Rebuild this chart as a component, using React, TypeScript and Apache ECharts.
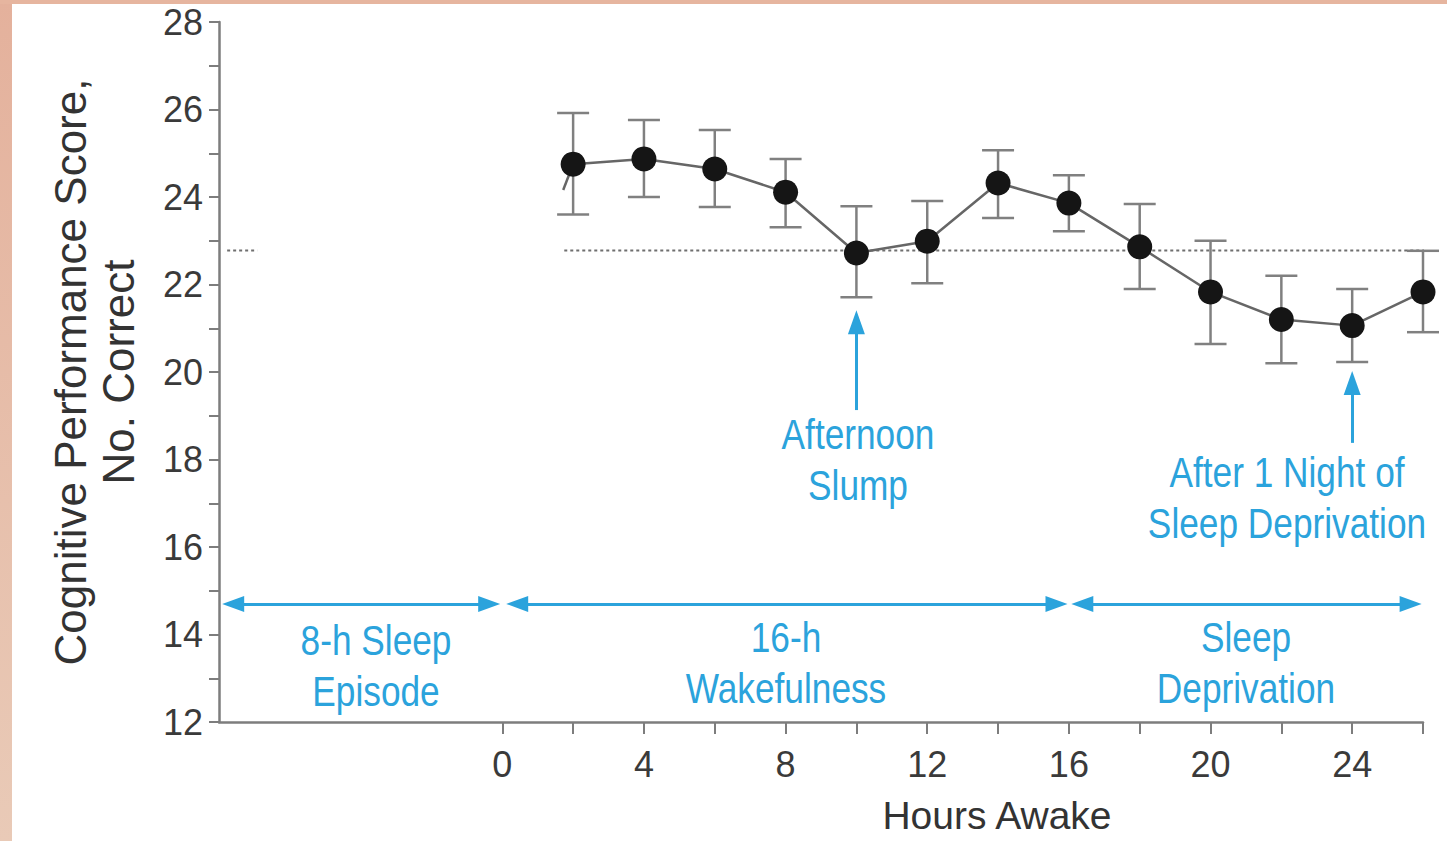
import React, { useEffect, useRef } from "react";
import * as echarts from "echarts";

// ---- data ----
const hours = [2, 4, 6, 8, 10, 12, 14, 16, 18, 20, 22, 24, 26];
const scores = [24.75, 24.87, 24.64, 24.11, 22.72, 22.99, 24.32, 23.86, 22.86, 21.83, 21.2, 21.06, 21.83];
const upperErr = [25.92, 25.76, 25.53, 24.87, 23.79, 23.91, 25.07, 24.5, 23.84, 23.0, 22.2, 21.9, 22.77];
const lowerErr = [23.6, 24.0, 23.77, 23.31, 21.71, 22.03, 23.52, 23.22, 21.9, 20.64, 20.2, 20.23, 20.91];
const leadIn = [[1.72, 24.16], [2, 24.75]];
const baseline = 22.78;
const baselineLeft = [-7.77, -6.92];
const baselineRight = [1.75, 26.5];
const xTicks = [0, 2, 4, 6, 8, 10, 12, 14, 16, 18, 20, 22, 24, 26];
const xLabels = [0, 4, 8, 12, 16, 20, 24];
const yTicks = [12, 13, 14, 15, 16, 17, 18, 19, 20, 21, 22, 23, 24, 25, 26, 27, 28];
const yLabels = [12, 14, 16, 18, 20, 22, 24, 26, 28];
// period arrows: [from, to] at level
const periodLevel = 14.7;
const periods = [
  [-7.6, -0.37],
  [0.42, 15.65],
  [16.38, 25.65],
];
// callout arrows: [x, bottom, tip]
const callouts = [
  [10, 19.13, 21.14],
  [24, 18.38, 19.75],
];

const BLUE = "#2ba3dc";
const AXIS = "#7d7d7d";
const REG = "'Liberation Sans', Arial, sans-serif";

export default function App() {
  const ref = useRef<HTMLDivElement>(null);
  useEffect(() => {
    document.body.style.margin = "0";
    const chart = echarts.init(ref.current!, null, { renderer: "svg" });
    const blueText = (x: number, y: number, text: string) => ({
      type: "text",
      x,
      y,
      scaleX: 0.82,
      style: {
        text,
        fill: BLUE,
        fontSize: 43,
        fontFamily: REG,
        align: "center",
        verticalAlign: "middle",
        lineHeight: 51,
      },
      z: 10,
    });
    const option: any = {
      animation: false,
      backgroundColor: "#ffffff",
      grid: { left: 219, right: 24, top: 22, bottom: 119, containLabel: false, outerBoundsMode: "none" },
      xAxis: {
        type: "value",
        min: -8,
        max: 26,
        interval: 2,
        axisLine: { show: true, onZero: false, lineStyle: { color: AXIS, width: 2.5 } },
        axisTick: { show: true, customValues: xTicks, length: 12, lineStyle: { color: AXIS, width: 2 } },
        axisLabel: { customValues: xLabels, color: "#3a3a3a", fontSize: 36, fontFamily: REG, margin: 24 },
        splitLine: { show: false },
        name: "Hours Awake",
        nameLocation: "middle",
        nameGap: 74,
        nameTextStyle: { color: "#333", fontSize: 39, fontFamily: REG, padding: [0, 0, 0, 352] },
      },
      yAxis: {
        type: "value",
        min: 12,
        max: 28,
        interval: 1,
        axisLine: { show: true, onZero: false, lineStyle: { color: AXIS, width: 2.5 } },
        axisTick: { show: true, customValues: yTicks, length: 10, lineStyle: { color: AXIS, width: 2 } },
        axisLabel: { customValues: yLabels, color: "#3a3a3a", fontSize: 36, fontFamily: REG, margin: 16 },
        splitLine: { show: false },
        name: "Cognitive Performance Score,\nNo. Correct",
        nameLocation: "middle",
        nameGap: 77,
        nameTextStyle: { color: "#333", fontSize: 44, fontFamily: REG, lineHeight: 48, align: "center" },
      },
      graphic: [
        {
          type: "rect",
          x: 0,
          y: 0,
          shape: { width: 12, height: 841 },
          style: {
            fill: new echarts.graphic.LinearGradient(0, 0, 0, 1, [
              { offset: 0, color: "#e4b19c" },
              { offset: 1, color: "#e9cab7" },
            ]),
          },
          z: 0,
        },
        { type: "rect", x: 0, y: 0, shape: { width: 1447, height: 4 }, style: { fill: "#e6b59f" }, z: 0 },
        blueText(376, 665, "8-h Sleep\nEpisode"),
        blueText(786, 662, "16-h\nWakefulness"),
        blueText(1246, 662, "Sleep\nDeprivation"),
        blueText(858, 459, "Afternoon\nSlump"),
        blueText(1287, 497, "After 1 Night of\nSleep Deprivation"),
      ],
      series: [
        {
          name: "baseline-left",
          type: "line",
          data: baselineLeft.map((x) => [x, baseline]),
          symbol: "none",
          clip: false,
          lineStyle: { color: "#6f6f6f", width: 2, type: [3, 3] },
          z: 1,
          silent: true,
        },
        {
          name: "baseline-right",
          type: "line",
          data: baselineRight.map((x) => [x, baseline]),
          symbol: "none",
          clip: false,
          lineStyle: { color: "#6f6f6f", width: 2, type: [3, 3] },
          z: 1,
          silent: true,
          markLine: {
            silent: true,
            symbol: ["triangle", "triangle"],
            symbolSize: [16, 22],
            label: { show: false },
            lineStyle: { color: BLUE, width: 3, type: "solid" },
            itemStyle: { color: BLUE },
            data: [
              ...periods.map(([a, b]) => [
                { coord: [a, periodLevel] },
                { coord: [b, periodLevel] },
              ]),
              ...callouts.map(([x, lo, hi]) => [
                { coord: [x, lo], symbol: "none" },
                { coord: [x, hi], symbol: "triangle", symbolSize: [17, 24] },
              ]),
            ],
          },
        },
        {
          name: "lead-in",
          type: "line",
          data: leadIn,
          symbol: "none",
          lineStyle: { color: "#666", width: 2.5 },
          z: 2,
          silent: true,
        },
        {
          name: "error",
          type: "custom",
          data: hours.map((h, i) => [h, lowerErr[i], upperErr[i]]),
          encode: { x: 0, y: [1, 2] },
          z: 2,
          renderItem: (params: any, api: any) => {
            const x = api.value(0);
            const lo = api.coord([x, api.value(1)]);
            const hi = api.coord([x, api.value(2)]);
            const hw = 16;
            const style = { stroke: "#808080", lineWidth: 2.5 };
            return {
              type: "group",
              children: [
                { type: "line", shape: { x1: lo[0], y1: lo[1], x2: hi[0], y2: hi[1] }, style },
                { type: "line", shape: { x1: lo[0] - hw, y1: lo[1], x2: lo[0] + hw, y2: lo[1] }, style },
                { type: "line", shape: { x1: hi[0] - hw, y1: hi[1], x2: hi[0] + hw, y2: hi[1] }, style },
              ],
            };
          },
        },
        {
          name: "Score",
          type: "line",
          data: hours.map((h, i) => [h, scores[i]]),
          symbol: "circle",
          symbolSize: 25,
          itemStyle: { color: "#151515" },
          lineStyle: { color: "#666", width: 2.5 },
          z: 3,
        },
      ],
    };
    chart.setOption(option);
    return () => chart.dispose();
  }, []);
  return <div ref={ref} style={{ width: 1447, height: 841 }} />;
}
